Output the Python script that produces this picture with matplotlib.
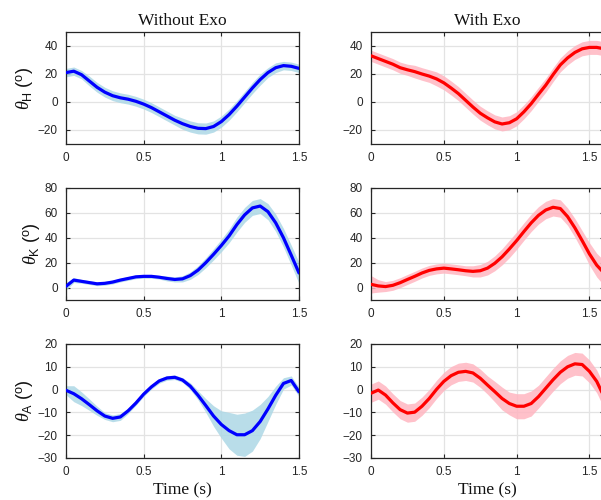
import numpy as np
import matplotlib
matplotlib.use("Agg")
import matplotlib.pyplot as plt

plt.rcParams["font.family"] = ["Liberation Sans", "DejaVu Sans"]
plt.rcParams["mathtext.fontset"] = "custom"
plt.rcParams["mathtext.rm"] = "Liberation Sans"
plt.rcParams["mathtext.it"] = "Liberation Serif:italic"

# Gait cycle time samples (s)
t_without = np.round(np.arange(0, 1.5001, 0.05), 2)
t_with = np.round(np.arange(0, 1.6001, 0.05), 2)

# Hip angle (deg): mean and half-width of the spread
hip_without = [21, 22, 19.5, 15, 10.5, 7, 4.5, 3, 2, 0.5, -1.5, -4, -7, -10, -13,
               -15.5, -17.5, -18.8, -19, -17.5, -14, -9, -3, 3.5, 10, 16, 21,
               24.5, 26, 25.5, 24]
hip_without_sd = [3, 3, 3, 3.5, 3.5, 3.5, 3.5, 3.5, 3.5, 3.5, 3.5, 3.5, 3.5, 3.5,
                  3.5, 4, 4, 4, 4, 4, 4, 4, 4, 4, 4, 4, 3.5, 3.5, 3, 3, 3]
hip_with = [33, 31, 29, 27, 24.5, 23, 21.7, 20, 18.5, 16.5, 13.7, 10, 6, 1.2,
            -3.6, -8, -11.3, -14.2, -15.7, -14.8, -12, -7, -1.2, 5.5, 12, 19.5,
            26.5, 31.5, 35.4, 38, 39, 39, 38]
hip_with_sd = [4, 4, 4, 4, 4, 4, 4.5, 4.5, 4.5, 5, 5, 5, 5, 5, 5, 5, 5, 5, 5,
               5, 5, 5, 5, 5, 5, 5, 5, 5, 5, 5, 5, 5, 5]

# Knee angle (deg)
knee_without = [1, 6, 5, 4, 3, 3.4, 4.4, 6, 7.3, 8.6, 9, 9, 8.3, 7.3, 6.5, 7,
                9.6, 14, 20, 26.7, 33.8, 41.5, 50.6, 58.4, 64, 65.5, 61, 52, 40,
                26, 11.7]
knee_without_sd = [3, 2, 1.5, 1.5, 1.5, 1.5, 1.5, 1.5, 1.5, 1.5, 1.5, 1.5, 1.5,
                   2, 2, 2.5, 3, 3.5, 4, 4.5, 5, 5.5, 6, 6, 6, 6, 6.5, 7, 7.5,
                   8, 8.5]
knee_with = [2.6, 1.3, 0.8, 1.8, 3.9, 6.5, 9, 11.7, 13.8, 15, 15.6, 15, 14.3,
             13.5, 13, 13.5, 15.6, 19.5, 24.7, 31, 37.7, 45, 52, 58, 62.3, 64.5,
             63.5, 57, 48, 37.7, 27, 18, 11.7]
knee_with_sd = [7, 5, 4, 4, 4, 4, 4, 4, 4, 4, 4, 4, 4, 4, 4.5, 5, 5.5, 6, 6.5,
                7, 7, 7, 7, 7, 7, 7, 7, 7, 7.5, 8, 9, 9.5, 10]

# Ankle angle (deg)
ankle_without = [-0.3, -1.8, -4, -6.6, -9.3, -11.6, -12.6, -12, -9.3, -5.9, -2,
                 1.2, 3.8, 5.1, 5.4, 4.2, 1.5, -2.5, -7, -11.6, -15.3, -18,
                 -19.8, -19.8, -18, -14, -8.5, -2.5, 2.7, 4, -1]
ankle_without_sd = [2, 3.5, 3, 2.5, 2, 1.5, 1.5, 1.5, 1.2, 1, 1, 1, 1, 1, 1, 1,
                    1.5, 2, 3, 4.5, 6, 8, 9, 9.5, 9, 7.5, 5.5, 4, 2.5, 2, 2]
ankle_with = [-1.6, -0.2, -2.4, -5.8, -8.8, -10.3, -9.9, -7.3, -3.9, 0.1, 3.6,
              6.1, 7.6, 8, 7.3, 5, 2, -0.9, -3.9, -6.1, -7.3, -7.3, -6.1, -3.1,
              0.6, 4.3, 7.6, 10, 11.3, 11, 8, 3.6, -3.1]
ankle_with_sd = [4, 4, 4, 4, 4, 4, 4, 4, 4, 4, 4, 4, 4, 4, 4, 4, 4, 4.5, 5,
                 5, 5.5, 5.5, 5.5, 5, 5, 5, 5, 5, 5, 5, 5, 5, 5]

col_titles = ["Without Exo", "With Exo"]
joint_labels = [r"$\theta_{\mathrm{H}}\ (^{\mathrm{o}})$",
                r"$\theta_{\mathrm{K}}\ (^{\mathrm{o}})$",
                r"$\theta_{\mathrm{A}}\ (^{\mathrm{o}})$"]
ylims = [(-30, 50), (-10, 80), (-30, 20)]
yticks = [[-20, 0, 20, 40], [0, 20, 40, 60, 80], [-30, -20, -10, 0, 10, 20]]
xticks = [0, 0.5, 1, 1.5]
xlims = [(0, 1.5), (0, 1.6)]

rows = [
    [(hip_without, hip_without_sd), (hip_with, hip_with_sd)],
    [(knee_without, knee_without_sd), (knee_with, knee_with_sd)],
    [(ankle_without, ankle_without_sd), (ankle_with, ankle_with_sd)],
]
times = [t_without, t_with]
line_colors = ["#0000FF", "#FF0000"]
band_colors = ["#ADD8E6", "#FFB6C1"]

W, H = 601, 500
fig = plt.figure(figsize=(W / 100, H / 100), dpi=100)

col_left = [66, 371]
ax_w = 233
row_box = [(32, 144), (188, 300), (344, 458)]

dark = "#262626"
for r in range(3):
    for c in range(2):
        top, bot = row_box[r]
        ax = fig.add_axes([col_left[c] / W, (H - bot) / H, ax_w / W, (bot - top) / H])
        mean, sd = rows[r][c]
        t = times[c]
        mean = np.asarray(mean, float)
        sd = np.asarray(sd, float)
        ax.fill_between(t, mean - sd, mean + sd, color=band_colors[c],
                        alpha=0.85, linewidth=0, zorder=2)
        ax.plot(t, mean, color=line_colors[c], linewidth=2.3, zorder=3,
                solid_capstyle="round", solid_joinstyle="round")
        ax.set_xlim(*xlims[c])
        ax.set_ylim(*ylims[r])
        ax.set_xticks(xticks)
        ax.set_xticklabels(["0", "0.5", "1", "1.5"])
        ax.set_yticks(yticks[r])
        ax.grid(True, color="#e3e3e3", linewidth=0.9, zorder=0)
        ax.set_axisbelow(True)
        ax.tick_params(direction="in", length=3, width=0.8, top=True, right=True,
                       labelsize=8.5, colors=dark, pad=6)
        for s in ax.spines.values():
            s.set_color(dark)
            s.set_linewidth(0.9)
        if r == 0:
            ax.set_title(col_titles[c], family="Liberation Serif", fontsize=12.5,
                         pad=5, color="#111111")
        if r == 2:
            ax.set_xlabel("Time (s)", family="Liberation Serif", fontsize=12.5,
                          labelpad=3, color="#111111")
        if c == 0:
            ax.set_ylabel(joint_labels[r], fontsize=13, labelpad=1, color="#111111")

fig.savefig("out.png", dpi=100)
